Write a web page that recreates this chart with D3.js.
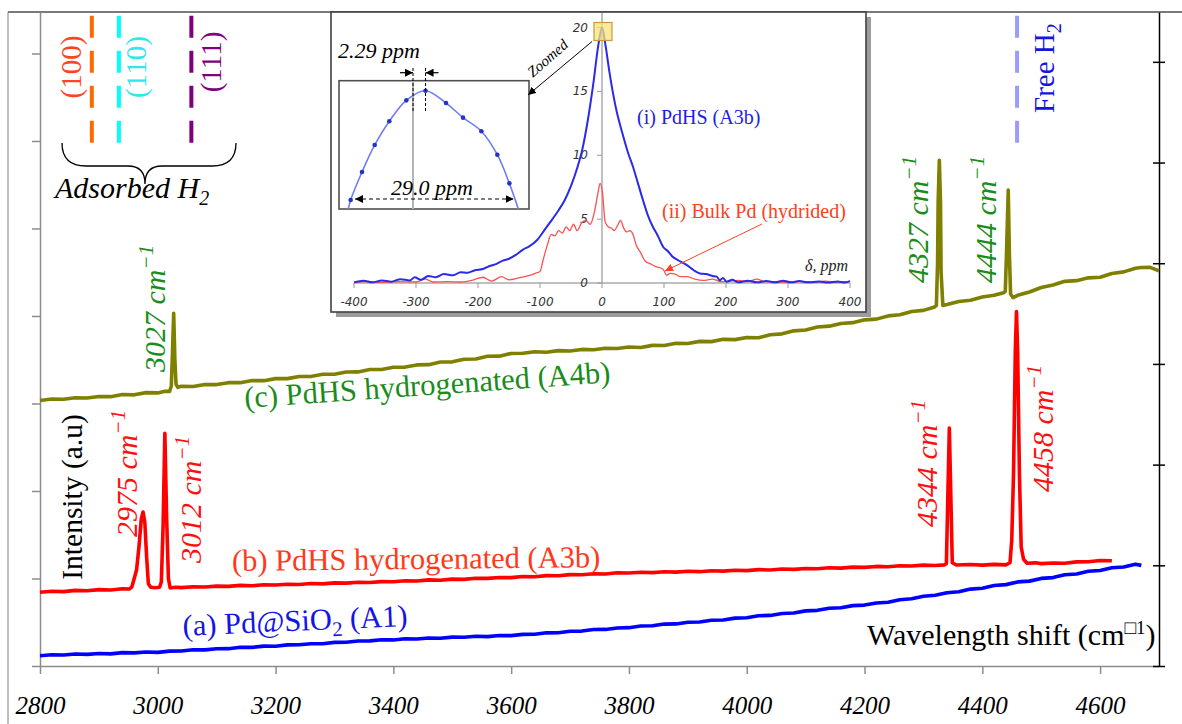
<!DOCTYPE html>
<html>
<head>
<meta charset="utf-8">
<script src="https://cdn.jsdelivr.net/npm/d3@7"></script>
<style>
  html, body { margin: 0; padding: 0; background: #fff; }
  svg { display: block; }
</style>
</head>
<body>
<script>
// ---------------- DATA ----------------
const xTickValues = [2800, 3000, 3200, 3400, 3600, 3800, 4000, 4200, 4400, 4600];
const leftTickValues = [0, 10, 20, 30, 40, 50, 60, 70];
const rightTickValues = [0, 1, 2, 3, 4, 5, 6];

// (a) Pd@SiO2 (A1)  [wavenumber, intensity]
const seriesA = [[2800,1.17],[2820,1.28],[2840,1.25],[2860,1.38],[2880,1.33],[2900,1.42],[2920,1.39],[2940,1.53],[2960,1.50],[2980,1.60],[3000,1.56],[3020,1.70],[3040,1.72],[3060,1.86],[3080,1.84],[3100,1.97],[3120,1.98],[3140,2.14],[3160,2.13],[3180,2.27],[3200,2.25],[3220,2.41],[3240,2.42],[3260,2.55],[3280,2.54],[3300,2.70],[3320,2.71],[3340,2.86],[3360,2.87],[3380,3.00],[3400,2.98],[3420,3.11],[3440,3.09],[3460,3.20],[3480,3.17],[3500,3.30],[3520,3.28],[3540,3.40],[3560,3.36],[3580,3.49],[3600,3.47],[3620,3.61],[3640,3.62],[3660,3.79],[3680,3.80],[3700,3.97],[3720,3.99],[3740,4.17],[3760,4.18],[3780,4.35],[3800,4.38],[3820,4.57],[3840,4.60],[3860,4.79],[3880,4.81],[3900,5.00],[3920,5.02],[3940,5.22],[3960,5.25],[3980,5.47],[4000,5.52],[4020,5.74],[4040,5.78],[4060,6.00],[4080,6.05],[4100,6.30],[4120,6.36],[4140,6.60],[4160,6.66],[4180,6.90],[4200,6.96],[4220,7.20],[4240,7.28],[4260,7.58],[4280,7.68],[4300,7.98],[4320,8.08],[4340,8.38],[4360,8.48],[4380,8.79],[4400,8.89],[4420,9.20],[4440,9.30],[4460,9.61],[4480,9.70],[4500,10.01],[4520,10.10],[4540,10.42],[4560,10.51],[4580,10.82],[4600,10.92],[4620,11.23],[4640,11.32],[4660,11.64],[4670,11.50]];

// (b) PdHS hydrogenated (A3b)
const seriesB = [[2800,8.43],[2820,8.54],[2840,8.50],[2860,8.64],[2880,8.60],[2900,8.73],[2920,8.69],[2940,8.82],[2952,8.80],[2956,9.05],[2960,10.0],[2964,11.0],[2968,13.6],[2972,16.8],[2975,17.6],[2978,16.4],[2981,12.5],[2984,9.4],[2988,9.0],[2995,8.94],[3003,9.0],[3006,9.6],[3009,16.0],[3012,26.6],[3015,17.0],[3018,10.0],[3021,8.92],[3030,9.0],[3040,8.96],[3060,9.06],[3080,9.03],[3100,9.13],[3120,9.10],[3140,9.21],[3160,9.17],[3180,9.28],[3200,9.25],[3220,9.35],[3240,9.32],[3260,9.43],[3280,9.39],[3300,9.50],[3320,9.47],[3340,9.57],[3360,9.54],[3380,9.64],[3400,9.62],[3420,9.74],[3440,9.71],[3460,9.84],[3480,9.80],[3500,9.93],[3520,9.90],[3540,10.03],[3560,10.01],[3580,10.12],[3600,10.10],[3620,10.22],[3640,10.20],[3660,10.33],[3680,10.31],[3700,10.44],[3720,10.42],[3740,10.55],[3760,10.52],[3780,10.66],[3800,10.62],[3820,10.72],[3840,10.67],[3860,10.77],[3880,10.73],[3900,10.83],[3920,10.78],[3940,10.88],[3960,10.84],[3980,10.94],[4000,10.90],[4020,11.01],[4040,10.97],[4060,11.08],[4080,11.04],[4100,11.14],[4120,11.12],[4140,11.22],[4160,11.19],[4180,11.30],[4200,11.27],[4220,11.38],[4240,11.34],[4260,11.45],[4280,11.42],[4300,11.53],[4320,11.49],[4336,11.56],[4339,11.7],[4341,18.0],[4344,27.2],[4347,18.0],[4349,11.8],[4356,11.54],[4380,11.60],[4400,11.53],[4420,11.61],[4440,11.56],[4447,11.8],[4450,14.4],[4453,22.0],[4456,36.0],[4458,40.5],[4460,36.0],[4463,22.0],[4466,13.6],[4470,12.2],[4476,11.74],[4490,11.79],[4500,11.70],[4520,11.77],[4540,11.75],[4560,11.90],[4580,11.91],[4600,12.05],[4620,12.02]];

// (c) PdHS hydrogenated (A4b)
const seriesC = [[2800,30.34],[2820,30.52],[2840,30.48],[2860,30.66],[2880,30.62],[2900,30.80],[2920,30.78],[2940,31.02],[2960,30.99],[2980,31.24],[3000,31.21],[3012,31.40],[3020,31.38],[3023,32.0],[3025,36.0],[3027,40.3],[3029,35.0],[3031,32.2],[3034,31.85],[3040,31.97],[3060,31.95],[3080,32.16],[3100,32.16],[3120,32.38],[3140,32.38],[3160,32.62],[3180,32.61],[3200,32.84],[3220,32.84],[3240,33.08],[3260,33.08],[3280,33.34],[3300,33.34],[3320,33.60],[3340,33.61],[3360,33.88],[3380,33.88],[3400,34.14],[3420,34.16],[3440,34.41],[3460,34.44],[3480,34.74],[3500,34.76],[3520,35.06],[3540,35.08],[3560,35.40],[3580,35.41],[3600,35.72],[3620,35.74],[3640,35.92],[3660,35.86],[3680,36.04],[3700,36.00],[3720,36.18],[3740,36.14],[3760,36.32],[3780,36.28],[3800,36.46],[3820,36.40],[3840,36.64],[3860,36.62],[3880,36.88],[3900,36.85],[3920,37.10],[3940,37.07],[3960,37.33],[3980,37.30],[4000,37.55],[4020,37.52],[4040,37.85],[4060,37.96],[4080,38.30],[4100,38.40],[4120,38.74],[4140,38.84],[4160,39.15],[4180,39.24],[4200,39.56],[4220,39.64],[4240,40.01],[4260,40.14],[4280,40.51],[4300,40.64],[4318,41.0],[4322,41.2],[4324,46.0],[4325,53.0],[4327,57.8],[4329,53.0],[4330,45.0],[4333,41.2],[4340,41.3],[4360,41.66],[4380,41.80],[4400,42.16],[4420,42.36],[4436,42.66],[4439,42.8],[4441,47.0],[4444,54.4],[4446,47.0],[4448,42.5],[4452,42.1],[4460,42.36],[4480,42.74],[4500,43.26],[4520,43.54],[4540,43.96],[4560,44.04],[4580,44.36],[4600,44.42],[4620,44.86],[4640,45.04],[4660,45.46],[4670,45.54],[4685,45.56],[4700,45.16]];

const redPeaks = [2975, 3012, 4344, 4458];
const greenPeaks = [3027, 4327, 4444];
const adsorbedPositions = [2888, 2934, 3057];
const adsorbedLabels = ["(100)", "(110)", "(111)"];
const freeH2Position = 4459;

// Inset: NMR spectra  [ppm, intensity]
const insetXTicks = [-400, -300, -200, -100, 0, 100, 200, 300, 400];
const insetYTicks = [0, 5, 10, 15, 20];
const insetBlue = [[-400,0.05],[-385,0.18],[-370,0.05],[-355,0.2],[-340,0.1],[-325,0.3],[-310,0.2],[-302,0.45],[-292,0.25],[-280,0.55],[-268,0.45],[-255,0.7],[-240,0.6],[-228,0.85],[-217,0.8],[-205,1.0],[-192,1.1],[-180,1.35],[-170,1.5],[-160,1.75],[-150,1.9],[-139,2.2],[-128,2.6],[-118,2.85],[-105,3.35],[-92,4.2],[-80,5.0],[-70,5.7],[-60,6.5],[-50,7.6],[-40,9.0],[-32,10.4],[-23,12.7],[-14,15.6],[-6,18.6],[0,20],[6,18.5],[12,16.5],[22,13.8],[33,11.7],[42,10.2],[50,9.1],[58,7.8],[66,6.5],[74,5.3],[82,4.4],[90,3.7],[99,2.8],[106,2.5],[113,2.1],[122,1.8],[137,1.4],[148,1.0],[158,0.75],[168,0.7],[178,0.55],[185,0.5],[190,0.2],[195,0.4],[201,0.1],[210,0.25],[220,0.05],[235,0.18],[250,0.05],[265,0.15],[280,0.05],[292,0.18],[305,0.05],[318,0.15],[332,0.05],[350,0.12],[365,0.03],[380,0.12],[392,0.04],[400,0.15]];
const insetRed = [[-400,0.05],[-380,0.1],[-360,0.05],[-330,0.1],[-300,0.08],[-285,0.3],[-272,0.08],[-250,0.1],[-228,0.08],[-210,0.2],[-192,0.45],[-178,0.15],[-162,0.5],[-150,0.25],[-134,0.4],[-120,0.55],[-108,0.75],[-100,0.9],[-95,1.8],[-88,3.0],[-82,3.8],[-76,3.7],[-70,4.1],[-64,3.9],[-58,4.4],[-52,4.1],[-46,4.6],[-40,4.1],[-33,4.7],[-26,4.9],[-19,4.6],[-12,5.6],[-6,7.2],[-3,7.8],[1,7.0],[5,4.8],[10,4.4],[15,4.3],[20,4.1],[25,4.5],[30,4.9],[35,4.3],[40,4.0],[45,4.1],[50,3.8],[55,3.0],[62,2.4],[70,1.7],[78,1.5],[86,1.3],[93,1.2],[99,1.05],[104,0.6],[110,0.75],[118,0.7],[126,0.5],[137,0.5],[150,0.3],[163,0.2],[178,0.3],[192,0.1],[205,0.15],[220,0.2],[235,0.1],[250,0.3],[262,0.1],[280,0.1],[300,0.05],[320,0.12],[340,0.05],[360,0.15],[380,0.08],[400,0.12]];
// Zoomed peak top [ppm, relative height within zoom box]
const zoomPeak = [[-11.83,0.0],[-11.39,0.070],[-9.32,0.288],[-7.0,0.499],[-4.33,0.684],[-1.22,0.847],[2.29,0.922],[6.03,0.826],[9.14,0.712],[12.49,0.606],[15.41,0.423],[17.61,0.200],[19.25,0.0]];
const zoomDots = [[-11.39,0.070],[-9.32,0.288],[-7.0,0.499],[-4.33,0.684],[-1.22,0.847],[2.29,0.922],[6.03,0.826],[9.14,0.712],[12.49,0.606],[15.41,0.423],[17.61,0.200]];
const shiftPPM = 2.29;
const fwhmRange = [-10.6, 18.4];

// ---------------- CHART ----------------
const W = 1182, H = 724;
const serif = "'Liberation Serif','Times New Roman','DejaVu Serif',serif";
const sans = "'DejaVu Sans','Verdana',sans-serif";

const svg = d3.select("body").append("svg").attr("width", W).attr("height", H);
const defs = svg.append("defs");
function marker(id, color, size) {
  defs.append("marker").attr("id", id).attr("viewBox", "0 0 10 10")
    .attr("refX", 10).attr("refY", 5).attr("markerUnits", "userSpaceOnUse")
    .attr("markerWidth", size).attr("markerHeight", size).attr("orient", "auto-start-reverse")
    .append("path").attr("d", "M0,0 L10,5 L0,10 Z").attr("fill", color);
}
marker("arrK", "#000", 8);
marker("arrR", "#ff4020", 8);

const x = d3.scaleLinear().domain([2800, 4700]).range([40, 1159]);
const y = d3.scaleLinear().domain([0, 74.74]).range([666, 12]);
const yR = d3.scaleLinear().domain([0, 6.495]).range([666, 12]);

// outer frame
svg.append("line").attr("x1", 8).attr("y1", 12).attr("x2", 8).attr("y2", H)
  .attr("stroke", "#a8a8a8").attr("stroke-width", 1.5);
svg.append("line").attr("x1", 8).attr("y1", 12).attr("x2", W).attr("y2", 12)
  .attr("stroke", "#7a7a7a").attr("stroke-width", 2);

// left axis
const gL = svg.append("g").attr("transform", "translate(40,0)")
  .call(d3.axisLeft(y).tickValues(leftTickValues).tickSize(8).tickSizeOuter(0).tickFormat(""));
gL.selectAll("path,line").attr("stroke", "#8c8c8c").attr("stroke-width", 1.5);

// bottom axis
const gB = svg.append("g").attr("transform", "translate(0,666)")
  .call(d3.axisBottom(x).tickValues(xTickValues).tickSize(8).tickSizeOuter(0).tickFormat(d3.format("d")));
gB.selectAll("path,line").attr("stroke", "#8c8c8c").attr("stroke-width", 1.5);
gB.selectAll("text").attr("dy", null).attr("y", 48)
  .attr("font-family", serif).attr("font-style", "italic").attr("font-size", 25).attr("fill", "#000");

// right axis (crossing ticks)
const gR = svg.append("g").attr("transform", "translate(1159,0)")
  .call(d3.axisRight(yR).tickValues(rightTickValues).tickSize(6).tickSizeOuter(0).tickFormat(""));
gR.selectAll("path,line").attr("stroke", "#000").attr("stroke-width", 1.5);
const gR2 = svg.append("g").attr("transform", "translate(1159,0)")
  .call(d3.axisLeft(yR).tickValues(rightTickValues).tickSize(6).tickSizeOuter(0).tickFormat(""));
gR2.select("path").remove();
gR2.selectAll("line").attr("stroke", "#000").attr("stroke-width", 1.5);

// reference dashed lines
const dashRange = [59.8, 74.3];
const adsColors = ["#ff6a00", "#00ffff", "#800080"];
const adsText = ["#ff4420", "#30e8e8", "#800080"];
adsorbedPositions.forEach((p, i) => {
  svg.append("line").attr("x1", x(p)).attr("x2", x(p)).attr("y1", y(dashRange[0])).attr("y2", y(dashRange[1]))
    .attr("stroke", adsColors[i]).attr("stroke-width", 4).attr("stroke-dasharray", "22,13");
});
const adsLabelPos = [[-11, 67], [27, 67], [30, 62]];
adsorbedLabels.forEach((t, i) => {
  svg.append("text").attr("transform", `translate(${x(adsorbedPositions[i]) + adsLabelPos[i][0]},${adsLabelPos[i][1]}) rotate(-90)`)
    .attr("text-anchor", "middle").attr("font-family", serif).attr("font-size", 29)
    .attr("fill", adsText[i]).text(t);
});
svg.append("line").attr("x1", x(freeH2Position)).attr("x2", x(freeH2Position))
  .attr("y1", y(dashRange[0])).attr("y2", y(dashRange[1]))
  .attr("stroke", "#9a9aff").attr("stroke-width", 4).attr("stroke-dasharray", "22,13");
const fh = svg.append("text").attr("transform", `translate(${x(freeH2Position) + 37},113) rotate(-90)`)
  .attr("font-family", serif).attr("font-size", 29).attr("fill", "#1414e0");
fh.append("tspan").text("Free H");
fh.append("tspan").attr("dy", 7).attr("font-size", 20).text("2");

// brace + Adsorbed H2
svg.append("path")
  .attr("d", "M62,143 C62,158 70,166 86,166 L128,166 C139,166 145,172 145,184 C145,172 151,166 162,166 L212,166 C228,166 236,158 236,143")
  .attr("fill", "none").attr("stroke", "#000").attr("stroke-width", 1.3);
const ad = svg.append("text").attr("x", 55).attr("y", 198)
  .attr("font-family", serif).attr("font-style", "italic").attr("font-size", 30).attr("fill", "#000");
ad.append("tspan").text("Adsorbed H");
ad.append("tspan").attr("dy", 7).attr("font-size", 20).text("2");

// data lines
const line = d3.line().x(d => x(d[0])).y(d => y(d[1]));
svg.append("path").datum(seriesA).attr("d", line).attr("fill", "none")
  .attr("stroke", "#0000ff").attr("stroke-width", 3.6).attr("stroke-linejoin", "round");
svg.append("path").datum(seriesB).attr("d", line).attr("fill", "none")
  .attr("stroke", "#ff0000").attr("stroke-width", 3.6).attr("stroke-linejoin", "round");
svg.append("path").datum(seriesC).attr("d", line).attr("fill", "none")
  .attr("stroke", "#808000").attr("stroke-width", 3.6).attr("stroke-linejoin", "round");

// peak labels
function peakLabel(p, dx, bottom, color) {
  const t = svg.append("text").attr("transform", `translate(${x(p) + dx},${bottom}) rotate(-90)`)
    .attr("font-family", serif).attr("font-style", "italic").attr("font-size", 30).attr("fill", color);
  t.append("tspan").text(p + " cm");
  t.append("tspan").attr("dy", -12).attr("font-size", 21).text("\u22121");
}
const redOffsets = [[-6, 537], [36, 563], [-12, 527], [37, 492]];
redPeaks.forEach((p, i) => peakLabel(p, redOffsets[i][0], redOffsets[i][1], "#ff1010"));
const greenOffsets = [[-9, 372], [-11, 283], [-12, 283]];
greenPeaks.forEach((p, i) => peakLabel(p, greenOffsets[i][0], greenOffsets[i][1], "#1a8c1a"));

// series labels
function seriesLabel(pos, angle, color) {
  return svg.append("text").attr("transform", `translate(${x(pos[0])},${y(pos[1])}) rotate(${angle})`)
    .attr("font-family", serif).attr("font-size", 30.5).attr("fill", color);
}
seriesLabel([3148, 29.5], -4, "#1a8c1a").text("(c) PdHS hydrogenated (A4b)");
seriesLabel([3126, 10.86], -0.6, "#ff3a1a").text("(b) PdHS hydrogenated (A3b)");
const la = seriesLabel([3043, 3.43], -2.6, "#1414e6");
la.append("tspan").text("(a) Pd@SiO");
la.append("tspan").attr("dy", 7).attr("font-size", 21).text("2");
la.append("tspan").attr("dy", -7).text(" (A1)");

// axis titles
svg.append("text").attr("transform", "translate(82,497) rotate(-90)").attr("text-anchor", "middle")
  .attr("font-family", serif).attr("font-size", 29.5).attr("fill", "#000").text("Intensity (a.u)");
const wl = svg.append("text").attr("x", 867).attr("y", 645)
  .attr("font-family", serif).attr("font-size", 30).attr("fill", "#000");
wl.append("tspan").text("Wavelength shift (cm");
wl.append("tspan").attr("dy", -11).attr("font-size", 19).text("\u25A11");
wl.append("tspan").attr("dy", 11).text(")");

// ---------------- INSET ----------------
const ins = svg.append("g");
ins.append("rect").attr("x", 336).attr("y", 17).attr("width", 535).attr("height", 300).attr("fill", "#9c9c9c");
ins.append("rect").attr("x", 331).attr("y", 12).attr("width", 535).attr("height", 300)
  .attr("fill", "#fff").attr("stroke", "#404040").attr("stroke-width", 1.6);

const ix = d3.scaleLinear().domain([-400, 400]).range([354, 850]);
const iy = d3.scaleLinear().domain([0, 20]).range([283, 27.5]);

ins.append("line").attr("x1", ix(-400)).attr("x2", ix(400)).attr("y1", iy(0)).attr("y2", iy(0))
  .attr("stroke", "#ababab").attr("stroke-width", 1.5);
ins.append("line").attr("x1", ix(0)).attr("x2", ix(0)).attr("y1", iy(0)).attr("y2", 13)
  .attr("stroke", "#ababab").attr("stroke-width", 1.5);
insetXTicks.forEach(v => {
  ins.append("line").attr("x1", ix(v)).attr("x2", ix(v)).attr("y1", iy(0)).attr("y2", iy(0) + 5)
    .attr("stroke", "#999").attr("stroke-width", 1);
  ins.append("text").attr("x", ix(v)).attr("y", 306).attr("text-anchor", "middle")
    .attr("font-family", sans).attr("font-style", "italic").attr("font-size", 12).attr("fill", "#333")
    .text(v);
});
insetYTicks.forEach(v => {
  ins.append("line").attr("x1", ix(0) - 5).attr("x2", ix(0)).attr("y1", iy(v)).attr("y2", iy(v))
    .attr("stroke", "#999").attr("stroke-width", 1);
  ins.append("text").attr("x", ix(0) - 14).attr("y", iy(v) + 4).attr("text-anchor", "end")
    .attr("font-family", sans).attr("font-style", "italic").attr("font-size", 12).attr("fill", "#333")
    .text(v);
});
ins.append("text").attr("x", 848).attr("y", 271).attr("text-anchor", "end")
  .attr("font-family", serif).attr("font-style", "italic").attr("font-size", 16).attr("fill", "#222").text("\u03B4, ppm");

const iline = d3.line().x(d => ix(d[0])).y(d => iy(d[1])).curve(d3.curveMonotoneX);
ins.append("path").datum(insetRed).attr("d", iline).attr("fill", "none")
  .attr("stroke", "#ff5050").attr("stroke-width", 1.3);
ins.append("path").datum(insetBlue).attr("d", iline).attr("fill", "none")
  .attr("stroke", "#2a2ae8").attr("stroke-width", 2);

// yellow marker on peak top
ins.append("rect").attr("x", ix(0) - 8).attr("y", iy(20) - 5).attr("width", 18).attr("height", 18)
  .attr("fill", "#f6e27a").attr("fill-opacity", 0.75).attr("stroke", "#c89a3c").attr("stroke-width", 1.2);

// series labels inside inset
ins.append("text").attr("x", 637).attr("y", 124).attr("font-family", serif).attr("font-size", 20)
  .attr("fill", "#1e1ee6").text("(i) PdHS (A3b)");
ins.append("text").attr("x", 662).attr("y", 218).attr("font-family", serif).attr("font-size", 20)
  .attr("fill", "#ff4020").text("(ii) Bulk Pd (hydrided)");
ins.append("line").attr("x1", 762).attr("y1", 224).attr("x2", 665).attr("y2", 271)
  .attr("stroke", "#ff4020").attr("stroke-width", 1).attr("marker-end", "url(#arrR)");

// zoom box
const zx = d3.scaleLinear().domain([0, 29]).range([413, 413 + 158.7]);
const zy = d3.scaleLinear().domain([0, 1]).range([209, 80.7]);
ins.append("rect").attr("x", 339).attr("y", 80.7).attr("width", 190).attr("height", 128.3)
  .attr("fill", "#fff").attr("stroke", "#505050").attr("stroke-width", 1.6);
defs.append("clipPath").attr("id", "zclip").append("rect")
  .attr("x", 339).attr("y", 80.7).attr("width", 190).attr("height", 128.3);
ins.append("line").attr("x1", zx(0)).attr("x2", zx(0)).attr("y1", 81).attr("y2", 209)
  .attr("stroke", "#b4b4b4").attr("stroke-width", 2);
const zline = d3.line().x(d => zx(d[0])).y(d => zy(d[1])).curve(d3.curveCatmullRom);
ins.append("path").datum(zoomPeak).attr("d", zline).attr("fill", "none").attr("clip-path", "url(#zclip)")
  .attr("stroke", "#6f7ef0").attr("stroke-width", 1.6);
ins.selectAll("circle.zd").data(zoomDots).join("circle").attr("class", "zd")
  .attr("cx", d => zx(d[0])).attr("cy", d => zy(d[1])).attr("r", 2.3).attr("fill", "#2233cc");

// 2.29 ppm markers
[0, shiftPPM].forEach(v => {
  ins.append("line").attr("x1", zx(v)).attr("x2", zx(v)).attr("y1", 68).attr("y2", 112)
    .attr("stroke", "#000").attr("stroke-width", 1).attr("stroke-dasharray", "3,2");
});
ins.append("line").attr("x1", zx(0) - 13).attr("x2", zx(0)).attr("y1", 72.7).attr("y2", 72.7)
  .attr("stroke", "#000").attr("stroke-width", 1.2).attr("marker-end", "url(#arrK)");
ins.append("line").attr("x1", zx(shiftPPM) + 13).attr("x2", zx(shiftPPM)).attr("y1", 72.7).attr("y2", 72.7)
  .attr("stroke", "#000").attr("stroke-width", 1.2).attr("marker-end", "url(#arrK)");
ins.append("text").attr("x", 338).attr("y", 58).attr("font-family", serif).attr("font-style", "italic")
  .attr("font-size", 22).attr("fill", "#000").text("2.29 ppm");

// 29.0 ppm width
ins.append("line").attr("x1", zx(fwhmRange[0])).attr("x2", zx(fwhmRange[1])).attr("y1", 199).attr("y2", 199)
  .attr("stroke", "#000").attr("stroke-width", 1).attr("stroke-dasharray", "4,3")
  .attr("marker-start", "url(#arrK)").attr("marker-end", "url(#arrK)");
ins.append("text").attr("x", 432).attr("y", 195).attr("text-anchor", "middle")
  .attr("font-family", serif).attr("font-style", "italic").attr("font-size", 22).attr("fill", "#000").text("29.0 ppm");

// "Zoomed" arrow
ins.append("line").attr("x1", ix(0) - 10).attr("y1", iy(20) + 14).attr("x2", 528).attr("y2", 95)
  .attr("stroke", "#000").attr("stroke-width", 1).attr("marker-end", "url(#arrK)");
ins.append("text").attr("transform", "translate(551,62) rotate(-41)").attr("text-anchor", "middle")
  .attr("font-family", serif).attr("font-style", "italic").attr("font-size", 15).attr("fill", "#000").text("Zoomed");
</script>
</body>
</html>
